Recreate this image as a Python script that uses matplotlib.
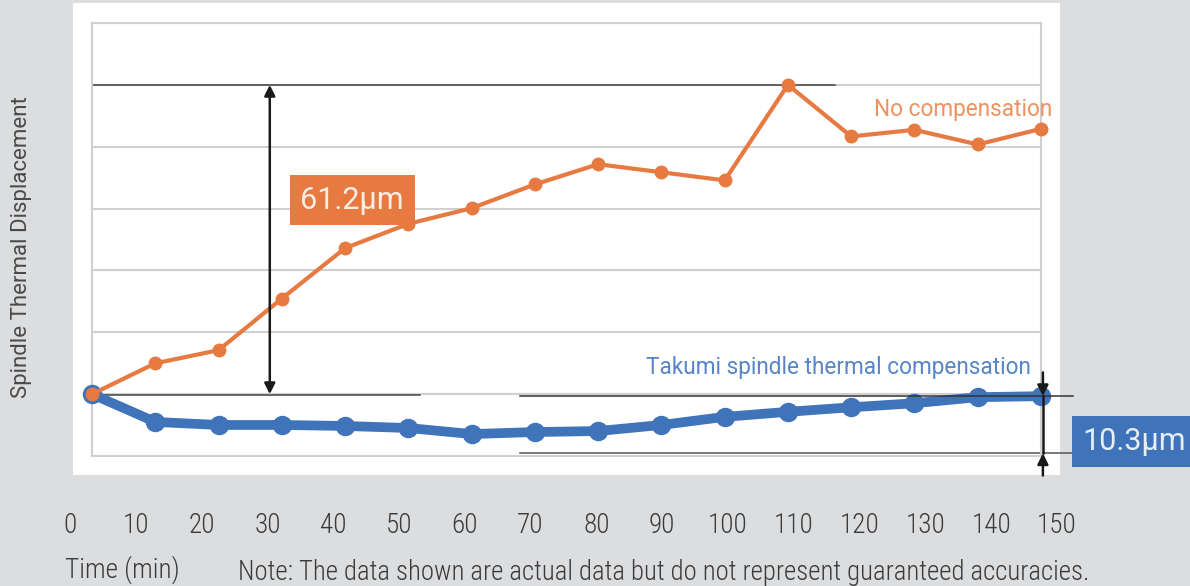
import matplotlib.pyplot as plt
from matplotlib.patches import Rectangle
import numpy as np

time_min = [0, 10, 20, 30, 40, 50, 60, 70, 80, 90, 100, 110, 120, 130, 140, 150]
no_comp = [0, 6.1, 8.7, 18.9, 28.9, 33.7, 36.8, 41.5, 45.5, 43.9, 42.3, 61.2, 51.0, 52.3, 49.4, 52.5]
takumi = [0, -5.5, -6.1, -6.1, -6.3, -6.7, -7.9, -7.5, -7.3, -6.1, -4.5, -3.5, -2.6, -1.8, -0.6, -0.4]
tick_labels = [str(t) for t in range(0, 160, 10)]
grid_step = 61.2 / 5

ORANGE = '#e67a40'
BLUE = '#3f73ba'
GRAY_BG = '#dcdddf'
GRID = '#d0d0d0'
TEXT = '#3a3a3a'

plt.rcParams['font.family'] = ['Roboto Condensed', 'Roboto', 'DejaVu Sans']

W, H = 1190, 586
fig = plt.figure(figsize=(W / 100, H / 100), dpi=100, facecolor=GRAY_BG)

# white panel behind the chart
fig.patches.append(Rectangle((73 / W, 1 - 475 / H), (1060 - 73) / W, (475 - 3) / H,
                             transform=fig.transFigure, facecolor='white',
                             edgecolor='none', zorder=-1))

ax = fig.add_axes([92 / W, 1 - 456 / H, (1041 - 92) / W, (456 - 23) / H])
ax.set_zorder(2)
ax.set_facecolor('white')
ax.set_xlim(0, 150)
ax.set_ylim(-grid_step, 6 * grid_step)
ax.set_yticks(np.arange(-1, 7) * grid_step)
ax.set_xticks([])
ax.tick_params(axis='y', length=0, labelleft=False)
ax.grid(axis='y', color=GRID, lw=1.5)
ax.set_axisbelow(True)
for s in ax.spines.values():
    s.set_color(GRID)
    s.set_linewidth(1.5)

ax.plot(time_min, takumi, color=BLUE, lw=7, marker='o', ms=13, clip_on=False, zorder=3)
ax.plot(time_min, no_comp, color=ORANGE, lw=3, marker='o', ms=9, clip_on=False, zorder=4)

# reference lines
top = max(no_comp)
ax.plot([0, 117.4], [top, top], color='#444444', lw=1.1, zorder=2)
ax.plot([0, 51.8], [-0.2, -0.2], color='#444444', lw=1.1, zorder=2)
low = -11.7
ax.plot([67.6, 155], [takumi[-1], takumi[-1]], color='#333333', lw=1.1, zorder=5, clip_on=False)
ax.plot([67.6, 155], [low, low], color='#555555', lw=1.1, zorder=2, clip_on=False)

arrow = dict(arrowstyle='<|-|>', color='#1a1a1a', lw=1.8, mutation_scale=16, shrinkA=0, shrinkB=0)
ax.annotate('', xy=(28.1, top), xytext=(28.1, 0), arrowprops=arrow, zorder=5)

one = dict(arrowstyle='-|>', color='#1a1a1a', lw=1.8, mutation_scale=16, shrinkA=0, shrinkB=0)
xr = 150.3
ax.annotate('', xy=(xr, takumi[-1]), xytext=(xr, 4.3), arrowprops=one, annotation_clip=False)
ax.plot([xr, xr], [takumi[-1], low], color='#1a1a1a', lw=1.8, clip_on=False, zorder=6)
ax.annotate('', xy=(xr, low), xytext=(xr, -16.1), arrowprops=one, annotation_clip=False)

ax.text(41.1, 38.4, '61.2µm', color='#fbeee6', fontsize=22,
        ha='center', va='center', zorder=6, family=['Roboto', 'DejaVu Sans'],
        bbox=dict(boxstyle='square,pad=0.35', fc=ORANGE, ec='none'))
ax.text(164.8, -9.4, '10.3µm', color='#e8eef7', fontsize=22,
        ha='center', va='center', zorder=6, clip_on=False, family=['Roboto', 'DejaVu Sans'],
        bbox=dict(boxstyle='square,pad=0.35', fc=BLUE, ec='none'))

ax.text(151.7, 56.3, 'No compensation', color='#ee9360', fontsize=16.3,
        ha='right', va='center', family=['Roboto', 'DejaVu Sans'])
ax.text(148.4, 5.3, 'Takumi spindle thermal compensation', color='#5686c9', fontsize=16.3,
        ha='right', va='center', family=['Roboto', 'DejaVu Sans'])

# tick label row
ax2 = fig.add_axes([70 / W, 1 - 512 / H, (1057 - 70) / W, 0.0001])
ax2.set_zorder(2)
ax2.set_xlim(0, 150)
ax2.set_xticks(range(0, 160, 10))
ax2.set_xticklabels(tick_labels, fontweight='light')
ax2.set_yticks([])
ax2.tick_params(axis='x', length=0, pad=0, labelsize=19.5, labelcolor=TEXT)
for s in ax2.spines.values():
    s.set_visible(False)
ax2.patch.set_visible(False)

fig.text(22 / W, 1 - 247 / H, 'Spindle Thermal Displacement', rotation=90, color='#4a4a4a',
         fontsize=16, ha='center', va='center', family=['Roboto', 'DejaVu Sans'])
fig.text(65 / W, 1 - 570 / H, 'Time (min)', color=TEXT, fontsize=19.5, fontweight='light',
         ha='left', va='center')
fig.text(238 / W, 1 - 572 / H,
         'Note: The data shown are actual data but do not represent guaranteed accuracies.',
         color=TEXT, fontsize=19.3, fontweight='light', ha='left', va='center')

fig.savefig('out.png', dpi=100, facecolor=GRAY_BG)
